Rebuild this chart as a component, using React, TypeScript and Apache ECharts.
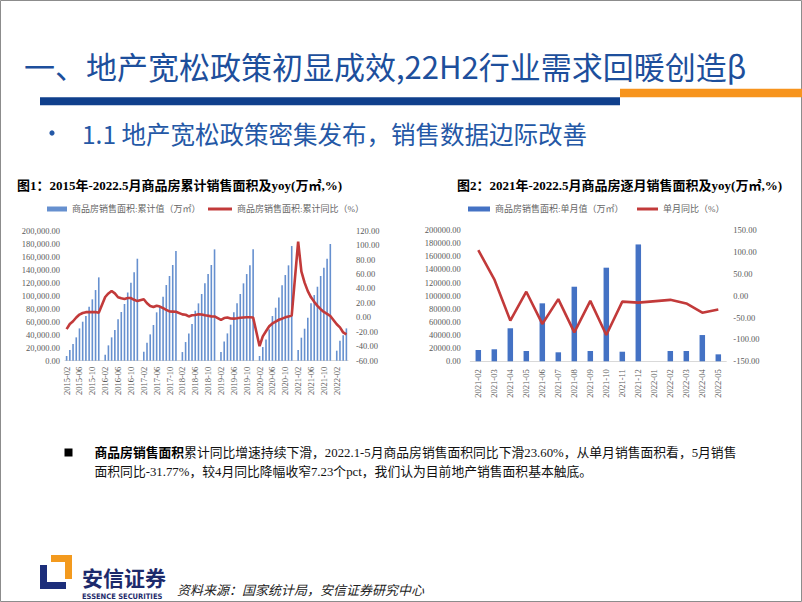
import React, { useEffect, useRef } from 'react';
import * as echarts from 'echarts';

// ---------- Chart 1 data (cumulative, 2015-02 .. 2022-05; January has no value) ----------
const cumYears = [2015, 2016, 2017, 2018, 2019, 2020, 2021, 2022];
const cum2015 = [7200, 16400, 25600, 35900, 49700, 60000, 68700, 83100, 94400, 108700, 128200];
const cum2016 = [null, 9200, 23600, 35900, 47200, 63600, 74900, 87200, 105100, 120000, 135900, 156900];
const cum2017 = [null, 13800, 27700, 40500, 54900, 74400, 84100, 98500, 116400, 130300, 147200, 168700];
const cum2018 = [null, 13300, 28700, 42000, 56400, 76900, 88200, 102600, 119000, 133300, 147200, 171300];
const cum2019 = [null, 13300, 29700, 42000, 55400, 74400, 88200, 102600, 119000, 133300, 147000, 171500];
const cum2020 = [null, 7200, 21000, 32800, 48200, 68700, 81500, 97400, 115900, 131800, 146700, 176400];
const cum2021 = [null, 16400, 35400, 49200, 66200, 88200, 101000, 113800, 130300, 143000, 157000, 179500];
const cum2022 = [null, 15400, 30800, 39000, 49700];

const yoy2015 = [-16.3, -9.2, -5.4, -0.2, 3.9, 6.1, 7.2, 7.5, 7.2, 7.4, 6.5];
const yoy2016 = [null, 28.2, 33.1, 36.5, 33.2, 27.9, 26.4, 25.5, 26.9, 26.8, 24.3, 22.5];
const yoy2017 = [null, 25.1, 19.5, 15.7, 14.3, 16.1, 15.0, 12.7, 10.3, 8.2, 8.0, 7.7];
const yoy2018 = [null, 4.1, 3.6, 1.3, 2.9, 3.3, 4.2, 4.0, 2.9, 2.2, 1.4, 1.3];
const yoy2019 = [null, -3.6, -0.9, -0.3, -1.6, -1.8, -1.3, -0.6, -0.1, 0.1, 0.2, -0.1];
const yoy2020 = [null, -39.9, -26.3, -19.3, -12.3, -8.4, -5.8, -3.3, -1.8, 0.0, 1.3, 2.6];
const yoy2021 = [null, 104.9, 63.8, 48.1, 36.3, 27.7, 21.5, 15.9, 11.3, 7.5, 4.8, 1.9];
const yoy2022 = [null, -9.6, -13.8, -20.9, -23.6];

const cumValues = [...cum2015, ...cum2016, ...cum2017, ...cum2018, ...cum2019, ...cum2020, ...cum2021, ...cum2022];
const cumYoy = [...yoy2015, ...yoy2016, ...yoy2017, ...yoy2018, ...yoy2019, ...yoy2020, ...yoy2021, ...yoy2022];

const cumCategories: string[] = [];
cumYears.forEach((y) => {
  for (let m = 1; m <= 12; m++) {
    if ((y === 2015 && m < 2) || (y === 2022 && m > 5)) continue;
    cumCategories.push(`${y}-${String(m).padStart(2, '0')}`);
  }
});

// ---------- Chart 2 data (monthly) ----------
const monCategories = ['2021-02', '2021-03', '2021-04', '2021-05', '2021-06', '2021-07', '2021-08', '2021-09', '2021-10', '2021-11', '2021-12', '2022-01', '2022-02', '2022-03', '2022-04', '2022-05'];
const monValues = [17200, 18300, 50300, 15700, 88300, 13700, 113600, 15700, 142600, 14600, 178000, null, 15700, 15700, 40000, 10600];
const monYoy = [104, 37.4, -57, 9, -64.6, -8, -84, -12, -90, -13.7, -16, null, -9.6, -17.7, -39.0, -31.77];

const cumLeftTicks = { min: 0, max: 200000, interval: 20000 };
const cumRightTicks = { min: -60, max: 120, interval: 20 };
const monLeftTicks = { min: 0, max: 200000, interval: 20000 };
const monRightTicks = { min: -150, max: 150, interval: 50 };

const SERIF = '"Liberation Serif", "Noto Sans CJK SC", serif';
const SANS = '"Noto Sans CJK SC", "Noto Sans", sans-serif';
const AXIS_GRAY = '#595959';
const RED = '#c23a3a';

export default function App() {
  const ref = useRef<HTMLDivElement>(null);
  useEffect(() => {
    if (!ref.current) return;
    const chart = echarts.init(ref.current, null, { renderer: 'svg' });
    const labelStyle = { fontFamily: SERIF, fontSize: 8.5, color: AXIS_GRAY };
    const legendText = { fontFamily: SERIF, fontSize: 9, color: '#666' };
    const option: any = {
      animation: false,
      backgroundColor: '#fff',
      grid: [
        { left: 65, top: 230.7, width: 283, height: 130, outerBoundsMode: 'none' },
        { left: 470.3, top: 230, width: 256, height: 131.3, outerBoundsMode: 'none' },
      ],
      legend: [
        { data: ['商品房销售面积:累计值（万㎡）'], left: 47, top: 204.5, padding: 0, icon: 'rect', itemWidth: 20, itemHeight: 5, textStyle: legendText },
        { data: ['商品房销售面积:累计同比（%）'], left: 208, top: 204.5, padding: 0, icon: 'rect', itemWidth: 24, itemHeight: 3, textStyle: legendText },
        { data: ['商品房销售面积:单月值（万㎡）'], left: 468, top: 204.5, padding: 0, icon: 'rect', itemWidth: 22, itemHeight: 5, textStyle: legendText },
        { data: ['单月同比（%）'], left: 637, top: 204.5, padding: 0, icon: 'rect', itemWidth: 21, itemHeight: 3, textStyle: legendText },
      ],
      xAxis: [
        {
          type: 'category', gridIndex: 0, data: cumCategories,
          axisLine: { lineStyle: { color: '#d9d9d9' } }, axisTick: { show: false },
          axisLabel: { ...labelStyle, rotate: 90, interval: 3, margin: 6 },
        },
        {
          type: 'category', gridIndex: 1, data: monCategories,
          axisLine: { lineStyle: { color: '#d9d9d9' } }, axisTick: { show: false },
          axisLabel: { ...labelStyle, rotate: 90, interval: 0, margin: 8 },
        },
      ],
      yAxis: [
        {
          type: 'value', gridIndex: 0, ...cumLeftTicks, splitLine: { show: false }, axisLine: { show: false }, axisTick: { show: false },
          axisLabel: { ...labelStyle, margin: 5, formatter: (v: number) => v.toLocaleString('en-US', { minimumFractionDigits: 2, maximumFractionDigits: 2 }) },
        },
        {
          type: 'value', gridIndex: 0, position: 'right', ...cumRightTicks, splitLine: { show: false }, axisLine: { show: false }, axisTick: { show: false },
          axisLabel: { ...labelStyle, margin: 8, formatter: (v: number) => v.toFixed(2) },
        },
        {
          type: 'value', gridIndex: 1, ...monLeftTicks, splitLine: { show: false }, axisLine: { show: false }, axisTick: { show: false },
          axisLabel: { ...labelStyle, margin: 9.5, formatter: (v: number) => v.toFixed(2) },
        },
        {
          type: 'value', gridIndex: 1, position: 'right', ...monRightTicks, splitLine: { show: false }, axisLine: { show: false }, axisTick: { show: false },
          axisLabel: { ...labelStyle, margin: 7, formatter: (v: number) => v.toFixed(2) },
        },
      ],
      series: [
        {
          name: '商品房销售面积:累计值（万㎡）', type: 'bar', xAxisIndex: 0, yAxisIndex: 0, data: cumValues,
          barWidth: 1.6, itemStyle: { color: '#6690cf' },
        },
        {
          name: '商品房销售面积:累计同比（%）', type: 'line', xAxisIndex: 0, yAxisIndex: 1, data: cumYoy,
          connectNulls: true, showSymbol: false, symbol: 'none', lineStyle: { color: RED, width: 2.6 }, itemStyle: { color: RED },
        },
        {
          name: '商品房销售面积:单月值（万㎡）', type: 'bar', xAxisIndex: 1, yAxisIndex: 2, data: monValues,
          barWidth: 5.5, itemStyle: { color: '#4472c4' },
        },
        {
          name: '单月同比（%）', type: 'line', xAxisIndex: 1, yAxisIndex: 3, data: monYoy,
          connectNulls: true, showSymbol: false, symbol: 'none', lineStyle: { color: RED, width: 2.6 }, itemStyle: { color: RED },
        },
      ],
      graphic: [
        { type: 'rect', shape: { x: 0.5, y: 0.5, width: 801, height: 601 }, style: { fill: 'none', stroke: '#8c8c8c', lineWidth: 1 }, silent: true },
        { type: 'text', x: 24, y: 65, style: { text: '一、地产宽松政策初显成效,22H2行业需求回暖创造β', font: `31px ${SANS}`, fill: '#1d4f9c', textVerticalAlign: 'middle' } },
        { type: 'rect', shape: { x: 620, y: 88.7, width: 182, height: 8.6 }, style: { fill: '#f7941d' } },
        { type: 'rect', shape: { x: 40, y: 97.3, width: 580, height: 8 }, style: { fill: '#0f3f8c' } },
        { type: 'circle', shape: { cx: 52, cy: 133, r: 2.6 }, style: { fill: '#2458a6' } },
        { type: 'text', x: 82, y: 133, style: { text: '1.1 地产宽松政策密集发布，销售数据边际改善', font: `24.5px ${SANS}`, fill: '#2458a6', textVerticalAlign: 'middle' } },
        { type: 'text', x: 17, y: 185, style: { text: '图1：2015年-2022.5月商品房累计销售面积及yoy(万㎡,%)', font: `bold 13px ${SERIF}`, fill: '#000', textVerticalAlign: 'middle' } },
        { type: 'text', x: 457, y: 185, style: { text: '图2：2021年-2022.5月商品房逐月销售面积及yoy(万㎡,%)', font: `bold 13px ${SERIF}`, fill: '#000', textVerticalAlign: 'middle' } },
        { type: 'rect', shape: { x: 64.5, y: 448.5, width: 8, height: 8 }, style: { fill: '#000' } },
        {
          type: 'text', x: 94.5, y: 453,
          style: {
            text: '{b|商品房销售面积}累计同比增速持续下滑，2022.1-5月商品房销售面积同比下滑23.60%，从单月销售面积看，5月销售',
            font: `12.8px ${SERIF}`, fill: '#111', textVerticalAlign: 'middle',
            rich: { b: { fontWeight: 'bold', fontSize: 12.8, fontFamily: SERIF, fill: '#000' } },
          },
        },
        { type: 'text', x: 94.5, y: 472, style: { text: '面积同比-31.77%，较4月同比降幅收窄7.23个pct，我们认为目前地产销售面积基本触底。', font: `12.8px ${SERIF}`, fill: '#111', textVerticalAlign: 'middle' } },
        // logo
        { type: 'polygon', shape: { points: [[51, 555], [72, 555], [72, 579], [65, 579], [65, 562], [51, 562]] }, style: { fill: '#f39a1e' } },
        { type: 'polygon', shape: { points: [[40, 565], [47, 565], [47, 582], [66, 582], [66, 589], [40, 589]] }, style: { fill: '#1c2e7a' } },
        { type: 'text', x: 82, y: 577, style: { text: '安信证券', font: `bold 21px ${SANS}`, fill: '#1d2a6b', textVerticalAlign: 'middle' } },
        { type: 'text', x: 82, y: 596, style: { text: 'ESSENCE SECURITIES', font: `bold 7.5px "DejaVu Sans Condensed", "Liberation Sans", sans-serif`, fill: '#1d2a6b', textVerticalAlign: 'middle' } },
        { type: 'text', x: 177, y: 590, style: { text: '资料来源：国家统计局，安信证券研究中心', font: `italic 13px ${SERIF}`, fill: '#222', textVerticalAlign: 'middle' } },
      ],
    };
    chart.setOption(option);
    return () => chart.dispose();
  }, []);
  return <div ref={ref} style={{ position: 'fixed', left: 0, top: 0, width: 802, height: 602, background: '#fff' }} />;
}
